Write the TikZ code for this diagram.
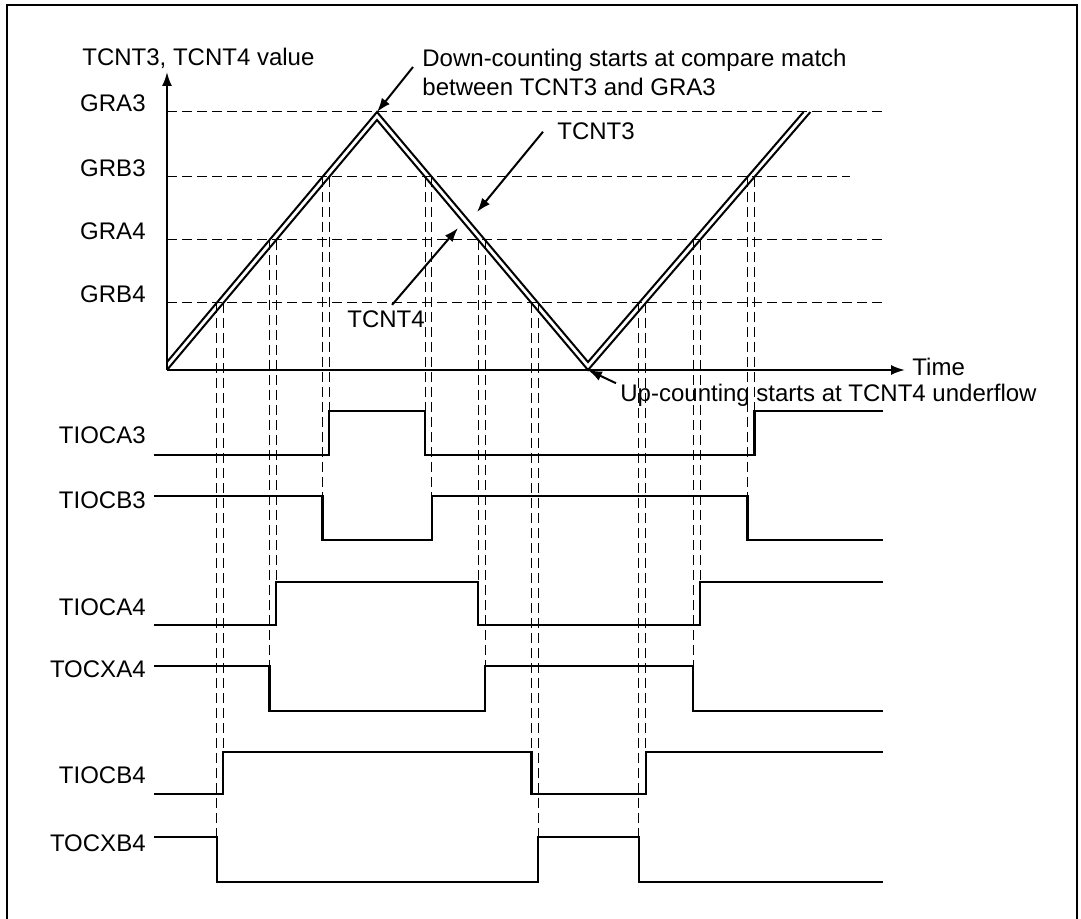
\documentclass[tikz,border=0pt]{standalone}
\usepackage{fontspec}
\setmainfont{Liberation Sans}
\usetikzlibrary{arrows.meta,positioning}

\begin{document}
\begin{tikzpicture}[x=0.5pt, y=-0.5pt,
lbl/.style={inner sep=0pt, font=\fontsize{12}{14}\selectfont},
guide/.style={dash pattern=on 5pt off 2.5pt, line width=0.5pt},
cnt/.style={line width=1pt, line join=miter},
wave/.style={line width=1.1pt},
arr/.style={-{Latex[length=7pt, width=5pt]}, line width=1pt}
]
\useasboundingbox (0,0) rectangle (1081,919);
\draw[line width=0.8pt] (7,919) -- (7,5) -- (1077,5) -- (1077,919);

% Axes
\coordinate (O) at (167,370);
\coordinate (ytip) at (167,72);
\coordinate (ttip) at (905,370);
\draw[arr] (O) -- (ytip);
\draw[arr] (O) -- (ttip);
\node[lbl, anchor=base west] (yname) at (82,66) {TCNT3, TCNT4 value};
\node[lbl, anchor=base west] (time) at (912,376) {Time};

% Compare levels
\foreach \lv/\y/\xe in {GRA3/112/883, GRB3/177/850, GRA4/240/883, GRB4/303/883} {
  \node[lbl, anchor=base east] (\lv) at (146,\y) {\lv};
  \draw[guide] (167,\y) -- (\xe,\y);
}

% Counters
\coordinate (peak) at (377,112);
\coordinate (valley) at (588,370);
\draw[cnt] (167,362) -- (peak) -- (588,362) -- (803.5,112);
\draw[cnt] (O) -- (377,120) -- (valley) -- (810.4,112);

% Compare match guides (TCNT3)
\foreach \x/\ya/\yb in {216.6/303/837, 269.5/240/666, 322.5/177/496,
  431.9/177/496, 485.0/240/666, 538.0/303/837,
  638.9/303/837, 693.2/240/666, 747.5/177/496}
  \draw[guide] (\x,\ya) -- (\x,\yb);
% Compare match guides (TCNT4)
\foreach \x/\ya/\yb in {223.3/303/752, 276.2/240/582, 329.2/177/411,
  425.1/177/411, 478.3/240/582, 531.4/303/752,
  645.8/303/752, 700.1/240/582, 754.4/177/411}
  \draw[guide] (\x,\ya) -- (\x,\yb);

% Notes
\node[lbl, anchor=base west] (downtxt) at (422,67) {Down-counting starts at compare match};
\node[lbl, anchor=base west] (downtxt2) at (422,96) {between TCNT3 and GRA3};
\draw[arr] ([xshift=-4.5pt]downtxt.base west) -- (peak);

\node[lbl, anchor=base west] (tcnt3) at (557,140) {TCNT3};
\coordinate (c3tip) at (477,212);
\draw[arr] ([xshift=-7pt]tcnt3.west) -- (c3tip);

\node[lbl, anchor=base west] (tcnt4) at (347,328) {TCNT4};
\coordinate (c4tip) at (458,228);
\draw[arr] ([xshift=3pt, yshift=3pt]tcnt4.north) -- (c4tip);

\node[lbl, anchor=base west] (uptxt) at (620,401) {Up-counting starts at TCNT4 underflow};
\draw[arr] ([xshift=-2pt]uptxt.north west) -- (valley);

% Output waveforms
\node[lbl, anchor=base east] (tioca3) at (146,444) {TIOCA3};
\draw[wave] (154,455) -- (329.2,455) -- (329.2,411) -- (425.1,411) -- (425.1,455)
  -- (754.4,455) -- (754.4,411) -- (883,411);

\node[lbl, anchor=base east] (tiocb3) at (146,508) {TIOCB3};
\draw[wave] (154,496) -- (322.5,496) -- (322.5,540) -- (431.9,540) -- (431.9,496)
  -- (747.5,496) -- (747.5,540) -- (883,540);

\node[lbl, anchor=base east] (tioca4) at (146,615) {TIOCA4};
\draw[wave] (154,625) -- (276.2,625) -- (276.2,582) -- (478.3,582) -- (478.3,625)
  -- (700.1,625) -- (700.1,582) -- (883,582);

\node[lbl, anchor=base east] (tocxa4) at (146,677) {TOCXA4};
\draw[wave] (154,666) -- (269.5,666) -- (269.5,711) -- (485.0,711) -- (485.0,666)
  -- (693.2,666) -- (693.2,711) -- (883,711);

\node[lbl, anchor=base east] (tiocb4) at (146,783) {TIOCB4};
\draw[wave] (154,794) -- (223.3,794) -- (223.3,752) -- (531.4,752) -- (531.4,794)
  -- (645.8,794) -- (645.8,752) -- (883,752);

\node[lbl, anchor=base east] (tocxb4) at (146,851) {TOCXB4};
\draw[wave] (154,837) -- (216.6,837) -- (216.6,882) -- (538.0,882) -- (538.0,837)
  -- (638.9,837) -- (638.9,882) -- (883,882);
\end{tikzpicture}
\end{document}
